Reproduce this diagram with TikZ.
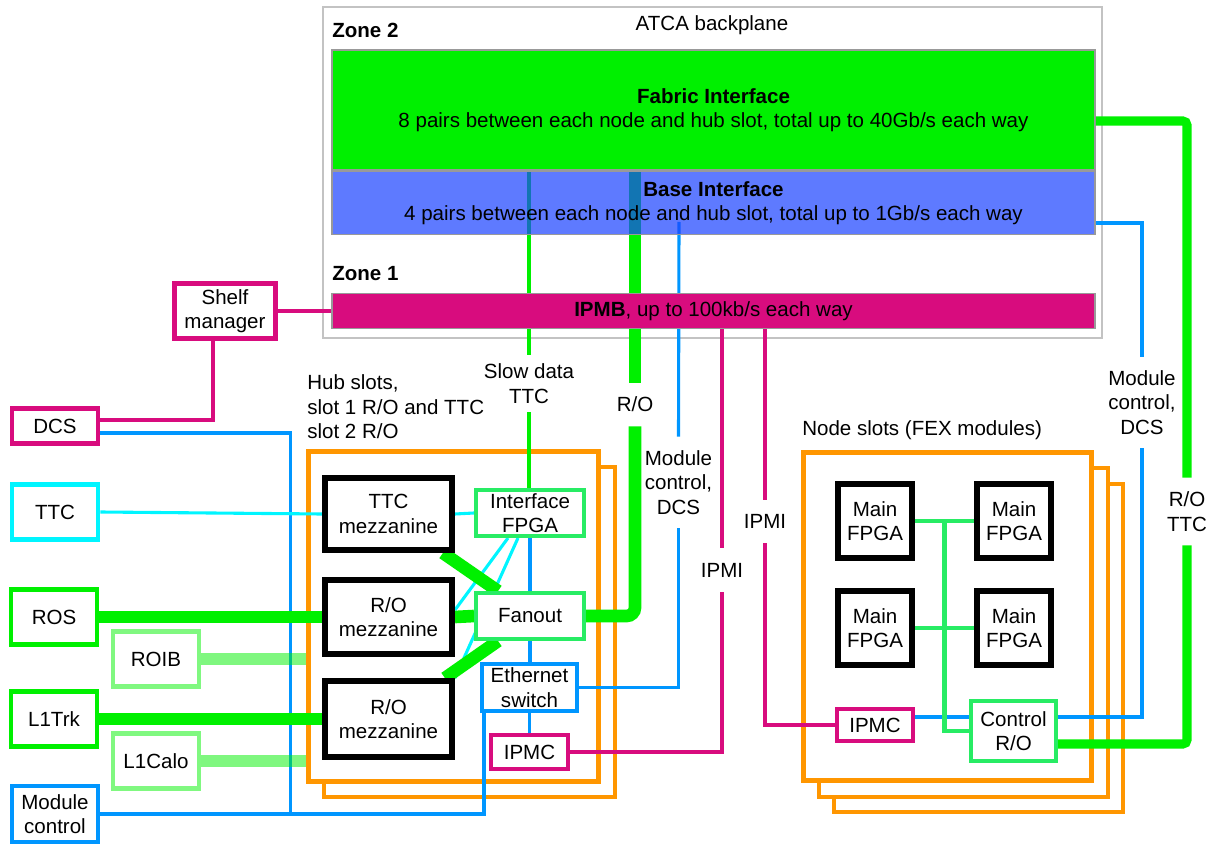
\documentclass[tikz,border=0pt]{standalone}
\usepackage{fontspec}
\setmainfont{Liberation Sans}
\usepackage{tikz}
\usetikzlibrary{calc}

\definecolor{bpgreen}{RGB}{0,240,0}
\definecolor{bpblue}{RGB}{26,66,255}
\definecolor{bpmag}{RGB}{216,12,126}
\definecolor{lnblue}{RGB}{0,150,255}
\definecolor{lncyan}{RGB}{0,245,255}
\definecolor{sprgreen}{RGB}{40,236,100}
\definecolor{slotorange}{RGB}{255,150,0}
\definecolor{bpgray}{RGB}{195,195,195}

\pgfdeclarelayer{bg}
\pgfdeclarelayer{fg}
\pgfsetlayers{bg,main,fg}

\begin{document}
\begin{tikzpicture}[x=0.025cm, y=-0.025cm,
  font=\fontsize{14.6}{17.4}\selectfont,
  sz/.style 2 args={minimum width=#1*0.025cm, minimum height=#2*0.025cm},
  box/.style={draw, fill=white, inner sep=0pt, align=center},
  ext/.style={box, line width=3.4pt},
  chip/.style={box, draw=black, line width=4.2pt},
  sub/.style={box, line width=2.8pt},
  slot/.style={draw=slotorange, inner sep=0pt, line width=2.9pt},
  iface/.style={draw=black!40, line width=1.2pt, inner sep=0pt, align=center},
  lab/.style={inner sep=0pt, align=center},
  fatgreen/.style={draw=bpgreen, line width=9pt},
  medgreen/.style={draw=bpgreen, line width=6.5pt, rounded corners=3},
  thingreen/.style={draw=bpgreen, line width=2.8pt},
  nodegreen/.style={draw=sprgreen, line width=3.5pt},
  blueline/.style={draw=lnblue, line width=2.2pt},
  cyanline/.style={draw=lncyan, line width=2.2pt},
  magline/.style={draw=bpmag, line width=2.8pt}
]
\useasboundingbox (0,0) rectangle (1211,846);

% backplane and slot frames
\begin{pgfonlayer}{bg}
\node[draw=bpgray, line width=1.4pt, sz={779}{331}] (bp) at (712.5,172.5) {};
\node[iface, fill=bpgreen, sz={763}{120}] (fabric) at (713.5,110)
  {\textbf{Fabric Interface}\\8 pairs between each node and hub slot, total up to 40Gb/s each way};
\node[slot, sz={291}{330}] (hubB) at (469.5,632) {};
\node[slot, fill=white, line width=3.6pt, sz={290}{330}] (hubA) at (453.5,616.5) {};
\node[slot, sz={289}{328}] (nodeC) at (978.5,648) {};
\node[slot, fill=white, sz={289}{329}] (nodeB) at (963.5,632.5) {};
\node[slot, fill=white, line width=3.6pt, sz={288}{328}] (nodeA) at (947.5,616.5) {};
\end{pgfonlayer}

\begin{pgfonlayer}{fg}
\node[iface, fill=bpblue, fill opacity=0.7, text opacity=1, sz={763}{63}] (base) at (713.5,203)
  {\textbf{Base Interface}\\4 pairs between each node and hub slot, total up to 1Gb/s each way};
\node[iface, fill=bpmag, sz={763}{35}] (ipmb) at (713.5,311) {\textbf{IPMB}, up to 100kb/s each way};
% outside systems
\node[ext, draw=bpmag, sz={101}{55}] (shelf) at (225,311) {Shelf\\manager};
\node[ext, draw=bpmag, sz={86}{35}] (dcs) at (55,426) {DCS};
\node[ext, draw=lncyan, sz={86}{55}] (ttc) at (55,512) {TTC};
\node[ext, draw=bpgreen, sz={86}{55}] (ros) at (54,617) {ROS};
\node[ext, draw=bpgreen!50, sz={86}{55}] (roib) at (156,659) {ROIB};
\node[ext, draw=bpgreen, sz={86}{55}] (ltrk) at (54,719) {L1Trk};
\node[ext, draw=bpgreen!50, sz={86}{55}] (lcalo) at (156,761) {L1Calo};
\node[ext, draw=lnblue, sz={86}{56}] (modctl) at (55,814) {Module\\control};
% hub slot
\node[chip, sz={127}{72}] (ttcmez) at (388.5,514) {TTC\\mezzanine};
\node[chip, sz={127}{74}] (romezA) at (388.5,617) {R/O\\mezzanine};
\node[chip, sz={127}{76}] (romezB) at (388.5,719) {R/O\\mezzanine};
\node[sub, draw=sprgreen, sz={108}{46}] (iffpga) at (530,513) {Interface\\FPGA};
\node[sub, draw=sprgreen, sz={108}{46}] (fanout) at (530,616) {Fanout};
\node[sub, draw=lnblue, sz={95}{47}] (eth) at (529.5,687.5) {Ethernet\\switch};
\node[sub, draw=bpmag, sz={77}{34}] (ipmcH) at (529.5,752) {IPMC};
% node slot
\node[chip, sz={74}{74}] (fpgaTL) at (875,521) {Main\\FPGA};
\node[chip, sz={74}{74}] (fpgaTR) at (1014,521) {Main\\FPGA};
\node[chip, sz={74}{74}] (fpgaBL) at (875,628) {Main\\FPGA};
\node[chip, sz={74}{74}] (fpgaBR) at (1014,628) {Main\\FPGA};
\node[sub, draw=bpmag, sz={76}{32}] (ipmcN) at (875,725) {IPMC};
\node[sub, draw=sprgreen, sz={85}{60}] (ctrl) at (1013.5,731) {Control\\R/O};
\end{pgfonlayer}

% texts
\node[lab] (atca) at (712,25) {ATCA backplane};
\node[lab, anchor=west] (zoneB) at (332,30) {\textbf{Zone 2}};
\node[lab, anchor=west] (zoneA) at (332,274) {\textbf{Zone 1}};
\node[lab, anchor=west, align=left] (hubtxt) at (307,407) {Hub slots,\\slot 1 R/O and TTC\\slot 2 R/O};
\node[lab, anchor=west] (nodetxt) at (802,430) {Node slots (FEX modules)};
\node[lab, sz={10}{57}] (slowlab) at (529,383.5) {Slow data\\TTC};
\node[lab, sz={10}{43}] (rolab) at (635,404.5) {R/O};
\node[lab, sz={10}{91}] (mchub) at (678.5,482.5) {Module\\control,\\DCS};
\node[lab, sz={10}{44}] (ipmiA) at (722,570) {IPMI};
\node[lab, sz={10}{43}] (ipmiB) at (765,521.5) {IPMI};
\node[lab, sz={10}{91}] (mcnode) at (1142,402.5) {Module\\control,\\DCS};
\node[lab, sz={10}{67}] (rottc) at (1187,511.5) {R/O\\TTC};

\coordinate (bjoin) at ($(modctl.east)+(190,0)$);
\coordinate (bdcs) at (679,222);
\coordinate (ipmcout) at ($(ipmcN.east)+(0,-8)$);

% left side links
\draw[magline] (shelf.east) -- (shelf.east -| ipmb.west);
\draw[magline] ($(shelf.south)+(-12,0)$) |- ($(dcs.east)+(0,-6)$);
\draw[blueline] ($(dcs.east)+(0,7)$) -| (bjoin);
\draw[blueline] (modctl.east) -| ($(eth.south west)+(4,0)$);
\draw[cyanline] (ttc.east) -- (ttcmez.west);
\draw[fatgreen] (ros.east) -- (romezA.west);
\draw[fatgreen] (ltrk.east) -- (romezB.west);
\draw[fatgreen, draw opacity=0.5] (roib.east) -- (roib.east -| hubA.west);
\draw[fatgreen, draw opacity=0.5] (lcalo.east) -- (lcalo.east -| hubA.west);

% inside the hub
\draw[cyanline] (ttcmez.east) -- (iffpga.west);
\draw[cyanline] ($(iffpga.south)+(-22,0)$) -- ($(romezA.east)+(0,-7)$);
\draw[cyanline] ($(iffpga.south)+(-12,0)$) -- (romezB.north east);
\draw[fatgreen] ($(ttcmez.south east)+(-12,0)$) -- ($(fanout.north west)+(24,0)$);
\draw[fatgreen] ($(romezB.north east)+(-10,0)$) -- ($(fanout.south west)+(24,0)$);
\draw[fatgreen] (romezA.east) -- (fanout.west);
\draw[blueline] (iffpga.south) -- (fanout.north);
\draw[blueline] (fanout.south) -- (fanout.south |- eth.north);
\draw[blueline] (eth.south -| ipmcH) -- (ipmcH.north);

% hub to backplane
\draw[thingreen] (fabric.south -| slowlab) -- (slowlab.north);
\draw[thingreen] (slowlab.south) -- (slowlab.south |- iffpga.north);
\draw[fatgreen] (fabric.south -| rolab) -- (rolab.north);
\draw[fatgreen, rounded corners=6] (rolab.south) |- (fanout.east);
\draw[blueline] (bdcs) -- (mchub.north);
\draw[blueline] (mchub.south) |- (eth.east);
\draw[magline] (ipmb.south -| ipmiA) -- (ipmiA.north);
\draw[magline] (ipmiA.south) |- (ipmcH.east);
\draw[magline] (ipmb.south -| ipmiB) -- (ipmiB.north);
\draw[magline] (ipmiB.south) |- (ipmcN.west);

% node slot links
\draw[blueline] (ipmcout) -- (ipmcout -| ctrl.west);
\draw[nodegreen] (fpgaTL.east) -- (fpgaTR.west);
\draw[nodegreen] (fpgaBL.east) -- (fpgaBR.west);
\draw[nodegreen] ($(fpgaTL.east)!0.5!(fpgaTR.west)$) |- (ctrl.west);
\draw[blueline] ($(base.east)+(0,20)$) -| (mcnode.north);
\draw[blueline] (mcnode.south) |- ($(ctrl.east)+(0,-14)$);
\draw[medgreen] ($(fabric.east)+(0,11)$) -| (rottc.north);
\draw[medgreen] (rottc.south) |- ($(ctrl.east)+(0,13)$);
\end{tikzpicture}
\end{document}
